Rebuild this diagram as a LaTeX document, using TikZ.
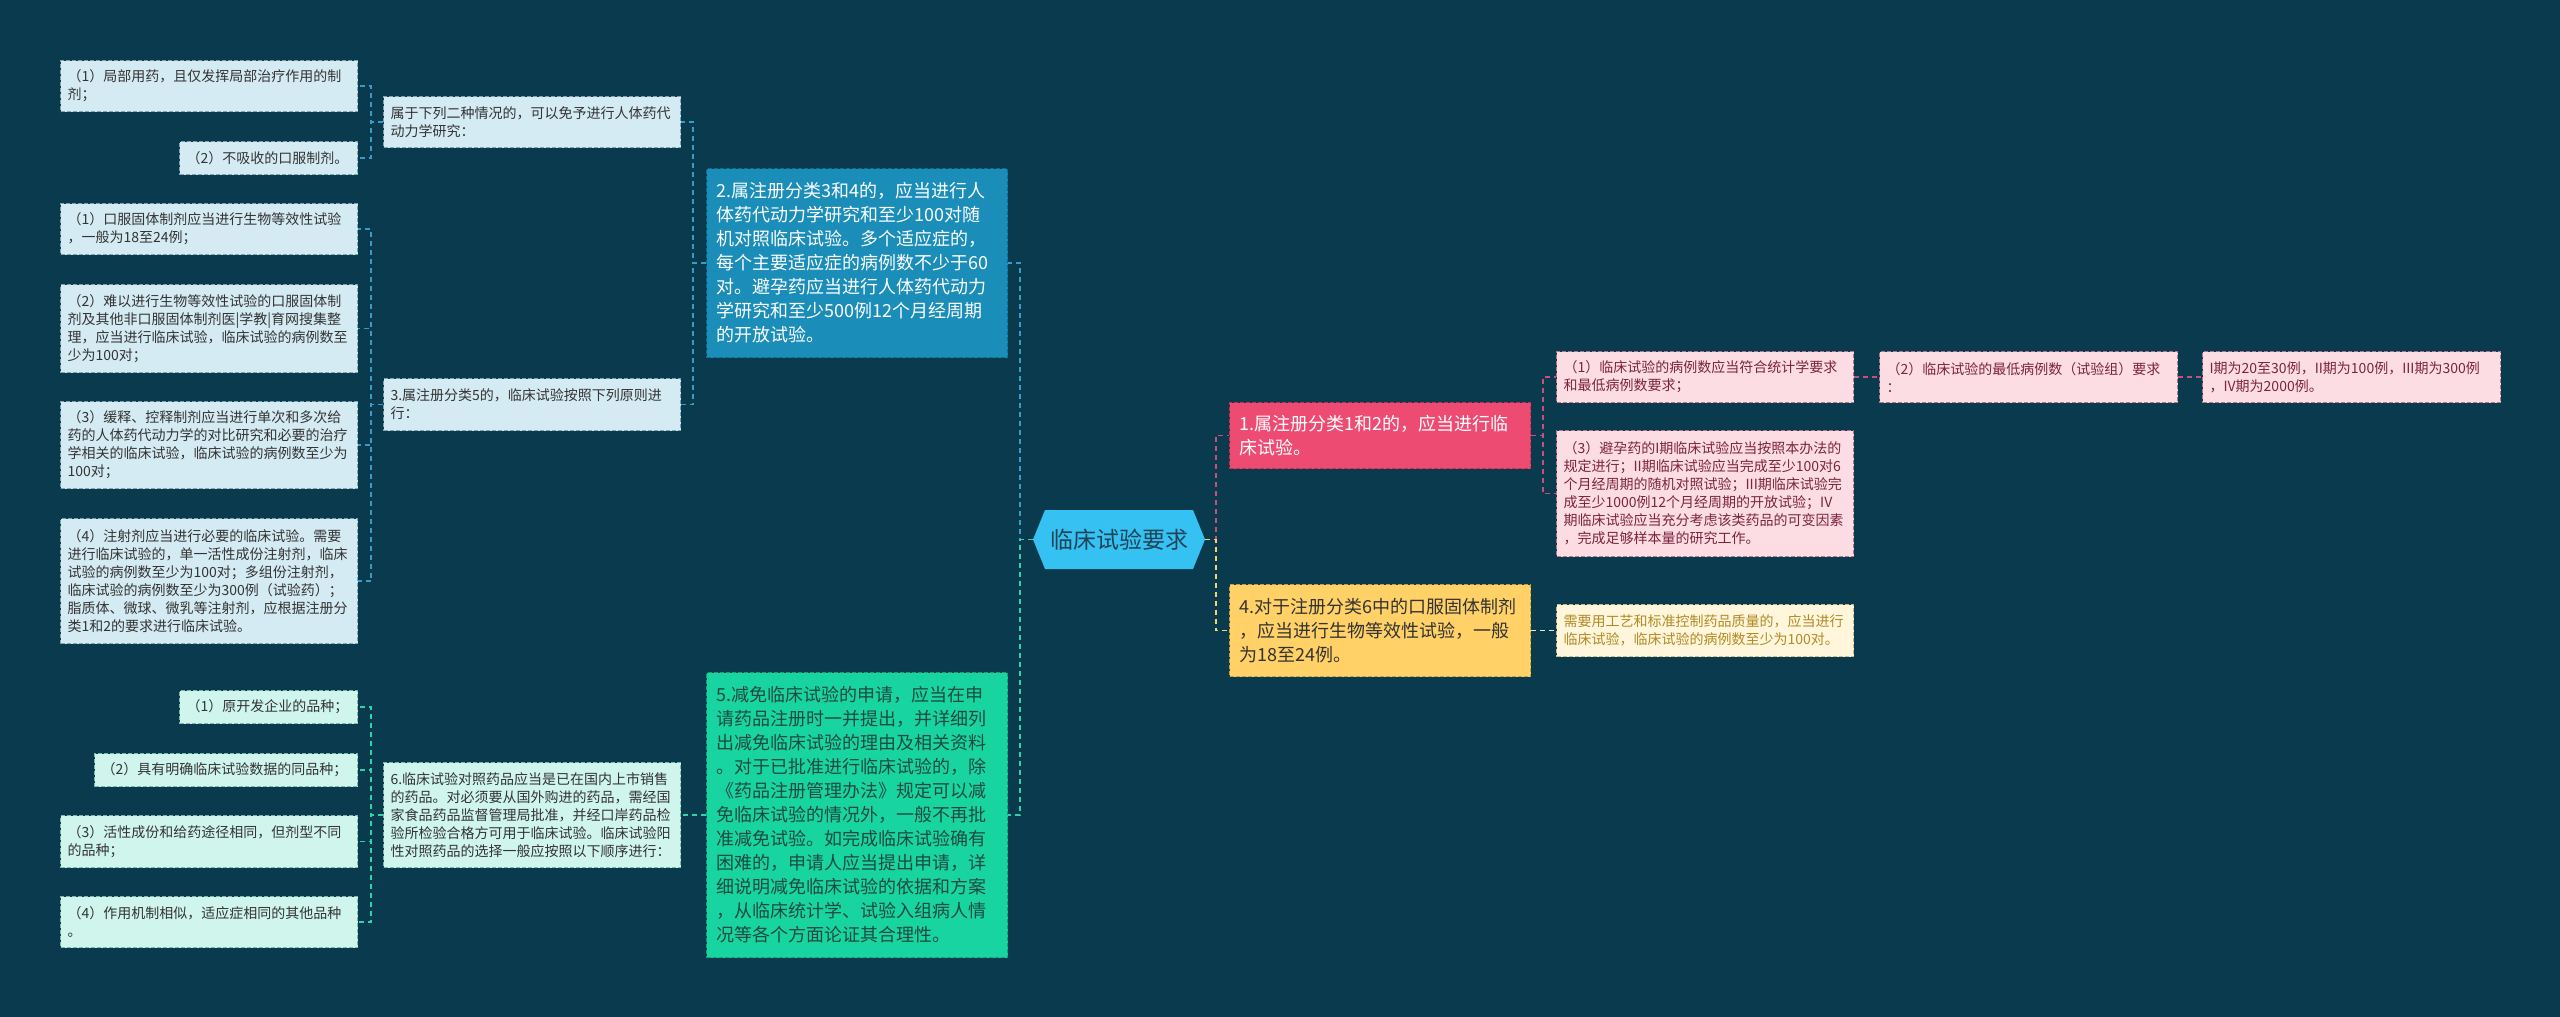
\documentclass[tikz,border=0pt]{standalone}
\usepackage{fontspec}
\setmainfont{Noto Sans CJK SC}
\definecolor{bg}{HTML}{0A3A4E}
\definecolor{lbF}{HTML}{D5EBF3}
\definecolor{lbB}{HTML}{7FA3B2}
\definecolor{mtF}{HTML}{D0F5EC}
\definecolor{mtB}{HTML}{7DB9AB}
\definecolor{nbF}{HTML}{1A8DB9}
\definecolor{nbB}{HTML}{0F6C93}
\definecolor{ngF}{HTML}{18D4A0}
\definecolor{ngB}{HTML}{10A07A}
\definecolor{ngT}{HTML}{1E4A42}
\definecolor{nrF}{HTML}{EE4B73}
\definecolor{nrB}{HTML}{C23058}
\definecolor{pkF}{HTML}{FCDDE3}
\definecolor{pkB}{HTML}{B07888}
\definecolor{pkT}{HTML}{7C2342}
\definecolor{nyF}{HTML}{FFD166}
\definecolor{nyB}{HTML}{C9A040}
\definecolor{crF}{HTML}{FFF6DB}
\definecolor{crB}{HTML}{CDB98A}
\definecolor{crT}{HTML}{B08A26}
\definecolor{tDark}{HTML}{333333}
\definecolor{rootF}{HTML}{35C2F2}
\definecolor{rootT}{HTML}{1F4357}
\definecolor{cBlue}{HTML}{3A9CC6}
\definecolor{cTeal}{HTML}{2ED3A8}
\definecolor{cPink}{HTML}{C9507C}
\definecolor{cYellow}{HTML}{F6D36B}
\definecolor{cCream}{HTML}{EFE6CF}
\tikzset{
  box/.style={rectangle, anchor=north west, align=left, inner ysep=0pt, draw, dash pattern=on 4pt off 2pt, line width=1.1pt},
  sm/.style={box, font=\fontsize{14}{18}\selectfont, inner xsep=7pt},
  big/.style={box, font=\fontsize{18}{24}\selectfont, inner xsep=10pt},
  lbbox/.style={sm, fill=lbF, draw=lbB, text=tDark},
  mtbox/.style={sm, fill=mtF, draw=mtB, text=tDark},
  pkbox/.style={sm, fill=pkF, draw=pkB, text=pkT},
  conn/.style={dash pattern=on 5pt off 4pt, line width=1.8pt},
}
\begin{document}
\begin{tikzpicture}[x=1pt,y=-1pt]
\fill[bg] (0,0) rectangle (2560,1017);
\useasboundingbox (0,0) rectangle (2560,1017);

% trunk coordinates
\coordinate (tL) at (1020,0);
\coordinate (tR) at (1216,0);
\coordinate (t2) at (693,0);
\coordinate (t3) at (371,0);
\coordinate (t4) at (1543,0);

% root
\fill[rootF] (1033,539.5) -- (1045,510) -- (1193,510) -- (1205,539.5) -- (1193,569) -- (1045,569) -- cycle;
\node[minimum width=172pt, minimum height=59pt, inner sep=0pt, font=\fontsize{23}{28}\selectfont, text=rootT] (root) at (1119,539.5) {临床试验要求};

% level 1
\node[big, fill=nbF, draw=nbB, text=white, text width=281pt, minimum height=189pt] (n2) at (706,168) {2.属注册分类3和4的，应当进行人\\体药代动力学研究和至少100对随\\机对照临床试验。多个适应症的，\\每个主要适应症的病例数不少于60\\对。避孕药应当进行人体药代动力\\学研究和至少500例12个月经周期\\的开放试验。};
\node[big, fill=ngF, draw=ngB, text=ngT, text width=281pt, minimum height=285pt] (n5) at (706,672) {5.减免临床试验的申请，应当在申\\请药品注册时一并提出，并详细列\\出减免临床试验的理由及相关资料\\。对于已批准进行临床试验的，除\\《药品注册管理办法》规定可以减\\免临床试验的情况外，一般不再批\\准减免试验。如完成临床试验确有\\困难的，申请人应当提出申请，详\\细说明减免临床试验的依据和方案\\，从临床统计学、试验入组病人情\\况等各个方面论证其合理性。};
\node[big, fill=nrF, draw=nrB, text=white, text width=281pt, minimum height=66pt] (n1) at (1229,402) {1.属注册分类1和2的，应当进行临\\床试验。};
\node[big, fill=nyF, draw=nyB, text=tDark, text width=281pt, minimum height=92pt] (n4) at (1229,584) {4.对于注册分类6中的口服固体制剂\\，应当进行生物等效性试验，一般\\为18至24例。};

% level 2 left
\node[lbbox, text width=283pt, minimum height=51pt] (p1) at (383,96) {属于下列二种情况的，可以免予进行人体药代\\动力学研究：};
\node[lbbox, text width=283pt, minimum height=52pt] (p2) at (383,378) {3.属注册分类5的，临床试验按照下列原则进\\行：};
\node[mtbox, text width=283pt, minimum height=105pt] (p3) at (383,762) {6.临床试验对照药品应当是已在国内上市销售\\的药品。对必须要从国外购进的药品，需经国\\家食品药品监督管理局批准，并经口岸药品检\\验所检验合格方可用于临床试验。临床试验阳\\性对照药品的选择一般应按照以下顺序进行：};

% level 3 left
\node[lbbox, text width=283pt, minimum height=51pt] (a1) at (60,60) {（1）局部用药，且仅发挥局部治疗作用的制\\剂；};
\node[lbbox, text width=164pt, minimum height=33pt] (a2) at (179,141) {（2）不吸收的口服制剂。};
\node[lbbox, text width=283pt, minimum height=51pt] (b1) at (60,203) {（1）口服固体制剂应当进行生物等效性试验\\，一般为18至24例；};
\node[lbbox, text width=283pt, minimum height=88pt] (b2) at (60,284) {（2）难以进行生物等效性试验的口服固体制\\剂及其他非口服固体制剂医|学教|育网搜集整\\理，应当进行临床试验，临床试验的病例数至\\少为100对；};
\node[lbbox, text width=283pt, minimum height=87pt] (b3) at (60,401) {（3）缓释、控释制剂应当进行单次和多次给\\药的人体药代动力学的对比研究和必要的治疗\\学相关的临床试验，临床试验的病例数至少为\\100对；};
\node[lbbox, text width=283pt, minimum height=125pt] (b4) at (60,518) {（4）注射剂应当进行必要的临床试验。需要\\进行临床试验的，单一活性成份注射剂，临床\\试验的病例数至少为100对；多组份注射剂，\\临床试验的病例数至少为300例（试验药）；\\脂质体、微球、微乳等注射剂，应根据注册分\\类1和2的要求进行临床试验。};
\node[mtbox, text width=164pt, minimum height=33pt] (c1) at (179,690) {（1）原开发企业的品种；};
\node[mtbox, text width=249pt, minimum height=33pt] (c2) at (94,753) {（2）具有明确临床试验数据的同品种；};
\node[mtbox, text width=283pt, minimum height=52pt] (c3) at (60,815) {（3）活性成份和给药途径相同，但剂型不同\\的品种；};
\node[mtbox, text width=283pt, minimum height=51pt] (c4) at (60,896) {（4）作用机制相似，适应症相同的其他品种\\。};

% right side
\node[pkbox, text width=283pt, minimum height=51pt] (d1) at (1556,351) {（1）临床试验的病例数应当符合统计学要求\\和最低病例数要求；};
\node[pkbox, text width=283pt, minimum height=126pt] (d3) at (1556,430) {（3）避孕药的I期临床试验应当按照本办法的\\规定进行；II期临床试验应当完成至少100对6\\个月经周期的随机对照试验；III期临床试验完\\成至少1000例12个月经周期的开放试验；IV\\期临床试验应当充分考虑该类药品的可变因素\\，完成足够样本量的研究工作。};
\node[pkbox, text width=284pt, minimum height=51pt] (d2) at (1879,351) {（2）临床试验的最低病例数（试验组）要求\\：};
\node[pkbox, text width=284pt, minimum height=51pt] (d2a) at (2202,351) {I期为20至30例，II期为100例，III期为300例\\，IV期为2000例。};
\node[sm, fill=crF, draw=crB, text=crT, text width=283pt, minimum height=52pt] (e1) at (1556,604) {需要用工艺和标准控制药品质量的，应当进行\\临床试验，临床试验的病例数至少为100对。};

% connectors: root
\draw[conn, cBlue] (root.west) -- (root.west -| tL) |- (n2.east);
\draw[conn, cTeal] (root.west) -- (root.west -| tL) |- (n5.east);
\draw[conn, cPink] (root.east) -- (root.east -| tR) |- (n1.west);
\draw[conn, cYellow] (root.east) -- (root.east -| tR) |- (n4.west);

% node 2 children
\draw[conn, cBlue] (n2.west) -- (n2.west -| t2) |- (p1.east);
\draw[conn, cBlue] (n2.west) -- (n2.west -| t2) |- (p2.east);
\draw[conn, cBlue] (p1.west) -- (p1.west -| t3) |- (a1.east);
\draw[conn, cBlue] (p1.west) -- (p1.west -| t3) |- (a2.east);
\foreach \c in {b1,b2,b3,b4}
  \draw[conn, cBlue] (p2.west) -- (p2.west -| t3) |- (\c.east);

% node 5 children
\draw[conn, cTeal] (n5.west) -- (n5.west -| t2) |- (p3.east);
\foreach \c in {c1,c2,c3,c4}
  \draw[conn, cTeal] (p3.west) -- (p3.west -| t3) |- (\c.east);

% node 1 children
\draw[conn, cPink] (n1.east) -- (n1.east -| t4) |- (d1.west);
\draw[conn, cPink] (n1.east) -- (n1.east -| t4) |- (d3.west);
\draw[conn, cPink] (d1.east) -- (d2.west);
\draw[conn, cPink] (d2.east) -- (d2a.west);

% node 4 child
\draw[conn, cCream] (n4.east) -- (e1.west);
\end{tikzpicture}
\end{document}
